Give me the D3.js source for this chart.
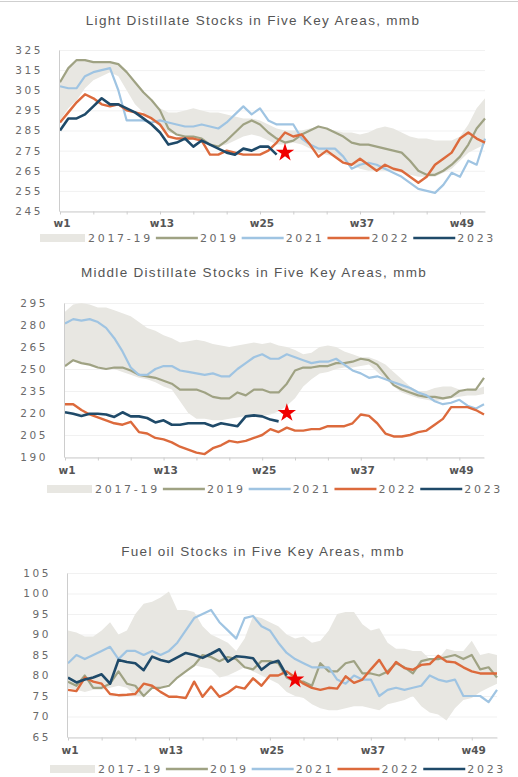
<html>
<head>
<title>Product stocks</title>
<style>
body { margin: 0; background: #fff; }
</style>
</head>
<body>
<div id="viz"></div>
<script src="https://d3js.org/d3.v7.min.js"></script>
<script>

var weeks = d3.range(1, 53);
var xLabelWeeks = [1, 13, 25, 37, 49];
var legendLabels = ['2017-19', '2019', '2021', '2022', '2023'];

// light distillate
var ldTicks = [245, 255, 265, 275, 285, 295, 305, 315, 325];
var ldBandLo = [290,296,300,306,310,312,314,312,305,298,294,290,287,284,283,282,281,280,278,277,278,280,282,283,282,280,278,278,279,278,276,274,273,272,270,268,266,265,265,265,265,264,263,262,262,262,264,266,270,274,276,278];
var ldBandHi = [309,316,320,320,319,319,319,318,314,309,304,300,296,294,294,295,296,295,294,294,293,292,291,291,290,288,286,285,285,285,286,287,286,285,284,284,283,284,286,287,286,284,282,281,281,280,280,280,282,288,296,301];
var ld2019 = [309,316,320,320,319,319,319,318,314,309,304,300,295,286,283,282,282,281,278,277,280,284,288,290,288,284,281,279,280,283,285,287,286,284,282,279,278,278,277,276,275,274,270,265,263,263,265,268,272,278,286,291];
var ld2021 = [307,306,306,312,314,315,316,305,290,290,290,289,290,289,288,287,287,288,287,286,289,293,297,293,296,290,288,288,288,281,278,276,276,276,272,266,268,269,268,266,264,262,259,256,255,254,258,264,262,270,268,281];
var ld2022 = [289,294,299,303,301,298,297,298,295,294,293,291,288,282,281,281,281,280,273,273,275,274,273,273,273,275,279,284,282,283,278,272,275,272,269,268,271,268,265,268,266,265,262,259,262,268,271,274,281,284,281,279];
var ld2023 = [285,291,291,293,297,301,298,298,296,294,291,288,284,278,279,281,277,280,278,276,274,273,276,275,277,277,273];
var ldStar = [28, 274];

// middle distillate
var mdTicks = [190, 205, 220, 235, 250, 265, 280, 295];
var mdBandLo = [252,256,254,253,251,250,250,248,246,244,243,241,238,236,228,220,216,216,215,215,216,217,218,218,218,219,221,225,230,238,243,247,248,250,251,251,252,253,248,243,238,234,232,230,229,228,229,230,231,232,232,233];
var mdBandHi = [289,294,295,294,292,292,290,288,286,282,278,276,273,271,268,269,270,269,267,266,265,266,267,268,267,268,266,265,263,260,261,265,266,265,262,260,258,258,256,253,248,243,238,235,235,237,238,238,236,235,236,238];
var md2019 = [252,256,254,253,251,250,251,251,249,246,245,244,242,240,236,236,236,234,231,230,230,234,232,236,236,234,234,240,249,251,251,252,252,254,254,255,257,256,253,246,239,236,234,232,231,231,230,231,235,236,236,244];
var md2021 = [281,284,283,284,282,278,271,262,251,246,246,250,252,252,249,248,247,246,247,245,245,250,254,258,260,257,257,260,258,256,254,255,255,257,253,249,247,244,245,243,241,239,237,234,232,228,226,227,229,225,223,226];
var md2022 = [226,226,222,219,217,215,213,212,214,207,206,203,202,200,197,195,193,192,196,198,201,200,201,203,205,209,207,210,208,208,209,209,211,211,211,213,219,218,213,206,204,204,205,207,208,212,216,224,224,224,222,219];
var md2023 = [220.5,219.5,218,219.5,219.5,219,217.3,220.5,217.7,217.7,216.6,213.6,215,212,212,213,213,213,211,213,212,211,217.7,218.4,217.7,215.5,214.3];
var mdStar = [28, 220];

// fuel oil
var foTicks = [65, 70, 75, 80, 85, 90, 95, 100, 105];
var foBandLo = [77,76.5,76,76.5,76.5,77,77.5,77,75,75,77,77,78,79.5,81,82.5,82,81.5,79.5,80,81,82,81,80,79,78,76,75,74.5,73,72,71.5,71.5,72,72.5,72.5,72,71.5,73,73.5,74,75,72.5,71,70.5,69,72,74,74.5,76,77,78];
var foBandHi = [91,90.5,89.5,89.5,91,93,90,91,95,97.5,98,99,100.5,96,96,95.5,92,90,89,88,86,89,94.5,94,93,92,90,89,89.5,88,88.5,91,95,95.5,95.5,92.5,91,91.5,88,86.5,86.5,86,86,84,84,86.5,86,86,88.5,85,85.5,85];
var fo2019 = [78.5,77.5,80,77,77,78,81,78,77.5,75,77,77,77.5,79.5,81,82.5,85,84.5,83.5,84.5,84,82,81.5,83.5,83.5,83,79.5,78.5,78.5,77.5,83,81,81,83,83.5,80.5,80.5,80,81,83,82,80.5,83.5,84,84,84.5,85,84,85,81.5,82,79.5];
var fo2021 = [83,85,84,85,86,87,84,86,86,85,86,85,86,88,91,94,95,96,93,91,89,94,94.5,92,91,88,85.5,84,83,82,82,82,79,78,80,79,79,75,76.5,77,76.5,77,77.5,80,79,78.5,79,75,75,75,73.5,76.5];
var fo2022 = [76.5,76.2,79.5,78.5,78,75.5,75.2,75.3,75.5,78,77.5,76,74.8,74.8,74.5,78.5,74.8,77.3,74.8,75.8,77.3,76.8,79.3,77.5,80,80,81,79.5,78,77,76.5,77,76.8,79.8,78.2,79,81.5,83.8,80.5,83.3,81.8,81.4,82.6,82.8,84.8,83.4,83.2,82,81,80.5,80.5,80.5];
var fo2023 = [79.5,78.3,79,79.5,80.3,78,83.8,83.3,83,81.3,84.6,83.8,83.3,84.4,85.5,85,84.3,85.3,86.4,83.4,84.7,84.5,84.2,81.4,83,83.6,80];
var foStar = [28, 79];

var colors = { band: '#e8e7e2', y2019: '#9fa283', y2021: '#9fc4e2', y2022: '#dc6a3c', y2023: '#1f4a69' };

var width = 518, height = 777;

var svg = d3.select('#viz')
    .append('svg')
    .attr('width', width)
    .attr('height', height);

svg.append('line')
    .attr('x1', 0).attr('x2', width)
    .attr('y1', 1.5).attr('y2', 1.5)
    .attr('stroke', '#cfcfcf');

var charts = [
    { title: 'Light Distillate Stocks in Five Key Areas, mmb', titleX: 253, titleY: 25,
      x0: 60, x1: 485, yTop: 50, yBot: 211, ticks: ldTicks, lo: ldBandLo, hi: ldBandHi,
      s2019: ld2019, s2021: ld2021, s2022: ld2022, s2023: ld2023, star: ldStar,
      xLabY: 227, legY: 238, legX: 40 },
    { title: 'Middle Distillate Stocks in Five Key Areas, mmb', titleX: 254, titleY: 277,
      x0: 65, x1: 484, yTop: 303, yBot: 457, ticks: mdTicks, lo: mdBandLo, hi: mdBandHi,
      s2019: md2019, s2021: md2021, s2022: md2022, s2023: md2023, star: mdStar,
      xLabY: 474, legY: 489, legX: 47 },
    { title: 'Fuel oil Stocks in Five Key Areas, mmb', titleX: 263, titleY: 556,
      x0: 68, x1: 497, yTop: 573, yBot: 737, ticks: foTicks, lo: foBandLo, hi: foBandHi,
      s2019: fo2019, s2021: fo2021, s2022: fo2022, s2023: fo2023, star: foStar,
      xLabY: 754, legY: 769, legX: 50 }
];

charts.forEach(drawChart);

function drawChart(c) {
    var x = d3.scaleLinear().domain([1, 52]).range([c.x0, c.x1]);
    var y = d3.scaleLinear().domain([c.ticks[0], c.ticks[c.ticks.length - 1]]).range([c.yBot, c.yTop]);
    var g = svg.append('g');

    g.append('text')
        .attr('x', c.titleX)
        .attr('y', c.titleY)
        .attr('text-anchor', 'middle')
        .attr('font-family', 'Liberation Sans, Arial, sans-serif')
        .attr('font-size', 13.5)
        .attr('letter-spacing', 1.3)
        .attr('fill', '#555')
        .text(c.title);

    // faint grid
    g.append('g')
        .attr('transform', 'translate(' + (c.x0 - 1) + ',0)')
        .call(d3.axisLeft(y).tickValues(c.ticks).tickSize(-(c.x1 - c.x0 + 1)).tickFormat(''))
        .call(function (a) {
            a.select('.domain').remove();
            a.selectAll('line').attr('stroke', '#f1f1f1');
        });

    // band
    var area = d3.area()
        .x(function (d, i) { return x(weeks[i]); })
        .y0(function (d, i) { return y(c.lo[i]); })
        .y1(function (d) { return y(d); });
    g.append('path')
        .datum(c.hi)
        .attr('d', area)
        .attr('fill', colors.band);

    var line = d3.line()
        .x(function (d, i) { return x(weeks[i]); })
        .y(function (d) { return y(d); });

    [[c.s2019, colors.y2019, 2.2], [c.s2021, colors.y2021, 2.2], [c.s2022, colors.y2022, 2.4], [c.s2023, colors.y2023, 2.6]]
        .forEach(function (s) {
            g.append('path')
                .datum(s[0])
                .attr('d', line)
                .attr('fill', 'none')
                .attr('stroke', s[1])
                .attr('stroke-width', s[2])
                .attr('stroke-linejoin', 'round');
        });

    g.append('path')
        .attr('d', d3.symbol(d3.symbolStar, 105)())
        .attr('transform', 'translate(' + x(c.star[0]) + ',' + y(c.star[1]) + ')')
        .attr('fill', '#f00000');

    // y axis
    g.append('g')
        .attr('transform', 'translate(' + (c.x0 - 1) + ',0)')
        .call(d3.axisLeft(y).tickValues(c.ticks).tickSize(0).tickPadding(16))
        .call(function (a) {
            a.select('.domain').attr('stroke', '#cdcdcd');
            a.selectAll('text')
                .attr('font-family', 'DejaVu Sans, sans-serif')
                .attr('font-size', 10.5)
                .attr('letter-spacing', 2.6)
                .attr('fill', '#6a6a6a');
        });

    // x axis
    g.append('g')
        .attr('transform', 'translate(0,' + (c.yBot + 0.5) + ')')
        .call(d3.axisBottom(x).tickValues(d3.range(1, 53, 4)).tickSize(3).tickSizeOuter(0).tickFormat(''))
        .call(function (a) {
            a.select('.domain').attr('stroke', '#cdcdcd');
            a.selectAll('line').attr('stroke', '#cdcdcd');
        });

    g.selectAll('.xlab')
        .data(xLabelWeeks)
        .enter()
        .append('text')
        .attr('x', function (d) { return x(d) + 2; })
        .attr('y', c.xLabY)
        .attr('text-anchor', 'middle')
        .attr('font-family', 'DejaVu Sans, sans-serif')
        .attr('font-weight', 'bold')
        .attr('font-size', 10.5)
        .attr('fill', '#555')
        .text(function (d) { return 'w' + d; });

    // legend
    var lx = c.legX;
    var leg = g.append('g');
    legendLabels.forEach(function (name, i) {
        if (i === 0) {
            leg.append('rect')
                .attr('x', lx).attr('y', c.legY - 4)
                .attr('width', 45).attr('height', 8)
                .attr('fill', colors.band);
            lx += 48;
        } else {
            var col = [null, colors.y2019, colors.y2021, colors.y2022, colors.y2023][i];
            leg.append('line')
                .attr('x1', lx).attr('x2', lx + 42)
                .attr('y1', c.legY).attr('y2', c.legY)
                .attr('stroke', col)
                .attr('stroke-width', 2.4);
            lx += 44;
        }
        var t = leg.append('text')
            .attr('x', lx)
            .attr('y', c.legY + 4)
            .attr('font-family', 'DejaVu Sans, sans-serif')
            .attr('font-size', 11)
            .attr('letter-spacing', 2.7)
            .attr('fill', '#6a6a6a')
            .text(name);
        lx += t.node().getComputedTextLength() + 3;
    });
}

</script>
</body>
</html>
